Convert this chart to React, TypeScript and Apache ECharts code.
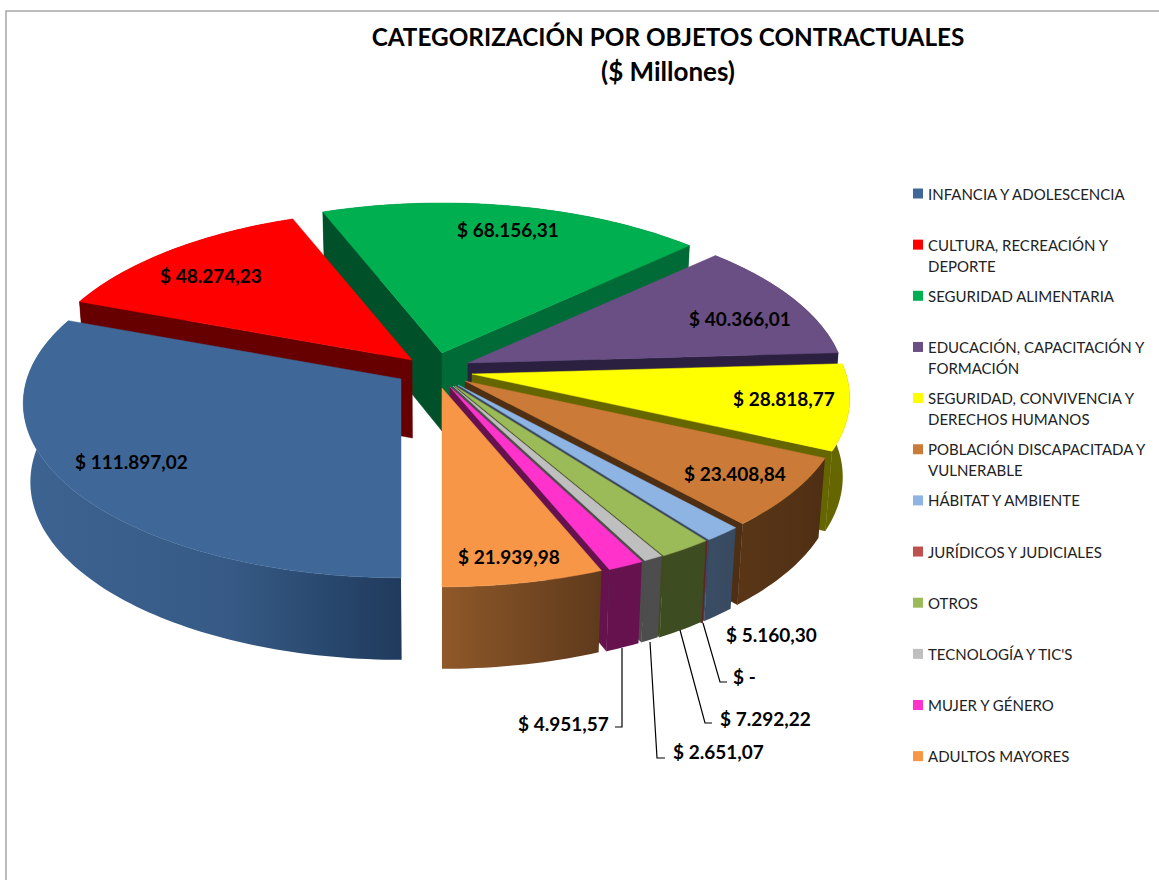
import React, { useEffect, useRef } from "react";
import * as echarts from "echarts";

const categories = [
  "INFANCIA Y ADOLESCENCIA",
  "CULTURA, RECREACIÓN Y\nDEPORTE",
  "SEGURIDAD ALIMENTARIA",
  "EDUCACIÓN, CAPACITACIÓN Y\nFORMACIÓN",
  "SEGURIDAD, CONVIVENCIA Y\nDERECHOS HUMANOS",
  "POBLACIÓN DISCAPACITADA Y\nVULNERABLE",
  "HÁBITAT Y AMBIENTE",
  "JURÍDICOS Y JUDICIALES",
  "OTROS",
  "TECNOLOGÍA Y TIC'S",
  "MUJER Y GÉNERO",
  "ADULTOS MAYORES",
];
const values = [
  111897.02, 48274.23, 68156.31, 40366.01, 28818.77, 23408.84, 5160.3, 0,
  7292.22, 2651.07, 4951.57, 21939.98,
];
const topColors = [
  "#3F6898", "#FF0000", "#00B050", "#6A4F85", "#FFFF00", "#CB7A38",
  "#8DB4E2", "#C0504D", "#9BBB59", "#BFBFBF", "#FF33CC", "#F79646",
];
const wallColors = [
  "#1F3A5C", "#660000", "#00502A", "#2B2040", "#666600", "#4F2F14",
  "#384A60", "#632423", "#3E4C22", "#4D4D4D", "#66124F", "#5E3A1C",
];
const wallLeftColors = [
  "#3D6392", "#660000", "#00502A", "#2B2040", "#666600", "#5A3617",
  "#3A4D64", "#632423", "#3E4C22", "#4D4D4D", "#66124F", "#8F5829",
];
// Layout only: where each slice's apex sits once exploded, label spots, leader lines.
const apexes = [
  [401, 379], [412, 360], [442, 353], [468, 363], [472, 374], [465, 381],
  [458, 385], [456, 387], [455, 386], [453, 386], [450, 387], [442, 388],
];
const labelSpots = [
  [75, 461], [160, 275], [457, 229], [689, 318], [733, 398], [684, 473],
  [726, 634], [733, 676], [720, 718], [673, 751], [518, 723], [458, 556],
];
const leaders: Record<number, number[][]> = {
  7: [[703, 623], [720, 682], [727, 682]],
  8: [[680, 630], [705, 723], [712, 723]],
  9: [[650, 642], [657, 758], [665, 758]],
  10: [[622, 648], [622, 727], [615, 727]],
};

const RX = 374, RY = 171, K = 0.14, CX = 440, SQUEEZE = 0.983;
const FONT = "Lato, 'Open Sans', sans-serif";
const total = values.reduce((a, b) => a + b, 0);
const starts: number[] = [];
values.reduce((acc, v, i) => {
  starts[i] = acc;
  return acc + (v / total) * 2 * Math.PI;
}, 0);

function project(i: number, theta: number, r: number, z: number): number[] {
  const u = -Math.sin(theta) * r;
  const v = Math.cos(theta) * r;
  const s = 1 / (1 - K * v);
  let x = apexes[i][0] + RX * u * s;
  let y = apexes[i][1] + RY * v * s;
  if (z) {
    x = CX + (x - CX) * SQUEEZE;
    y = y + 78 + 4 * v;
  }
  return [x, y];
}
function arc(i: number, a0: number, a1: number, z: number): number[][] {
  const n = Math.max(2, Math.ceil(Math.abs(a1 - a0) / 0.02));
  const pts: number[][] = [];
  for (let k = 0; k <= n; k++) pts.push(project(i, a0 + ((a1 - a0) * k) / n, 1, z));
  return pts;
}
function formatValue(v: number): string {
  if (v === 0) return "$ -";
  const [a, b] = v.toFixed(2).split(".");
  return "$ " + a.replace(/\B(?=(\d{3})+$)/g, ".") + "," + b;
}
const drawOrder = values
  .map((v, i) => ({ i, mid: starts[i] + ((v / total) * Math.PI) }))
  .sort((a, b) => Math.cos(a.mid) - Math.cos(b.mid))
  .map((d) => d.i);

function renderSlice(params: any) {
  const i = drawOrder[params.dataIndex];
  const a0 = starts[i];
  const a1 = a0 + (values[i] / total) * 2 * Math.PI;
  const apexTop = project(i, 0, 0, 0);
  const apexBottom = project(i, 0, 0, 1);
  const wall = wallColors[i];
  const inner = project(i, (a0 + a1) / 2, 0.7, 0);
  // A radial wall shows only when the slice's top lies above its edge on screen.
  const facesViewer = (a: number) => {
    const e = project(i, a, 1, 0);
    const dx = e[0] - apexTop[0];
    if (Math.abs(dx) < 1e-6) return false;
    const edgeY = apexTop[1] + ((e[1] - apexTop[1]) / dx) * (inner[0] - apexTop[0]);
    return inner[1] < edgeY;
  };
  const radial = (a: number, fill: string) => ({
    type: "polygon",
    shape: { points: [apexTop, project(i, a, 1, 0), project(i, a, 1, 1), apexBottom] },
    style: { fill, stroke: fill, lineWidth: values[i] === 0 ? 1 : 0.5 },
  });
  const outerTop = arc(i, a0, a1, 0);
  const outerBottom = arc(i, a0, a1, 1).reverse();
  const children: any[] = [];
  if (values[i] > 0) {
    children.push({
      type: "polygon",
      shape: { points: outerTop.concat(outerBottom) },
      style: {
        fill: new echarts.graphic.LinearGradient(
          0, 0, 1, 0,
          i === 0
            ? [
                { offset: 0, color: wallLeftColors[i] },
                { offset: 0.55, color: "#365A85" },
                { offset: 1, color: wall },
              ]
            : [
                { offset: 0, color: wallLeftColors[i] },
                { offset: 1, color: wall },
              ]
        ),
        stroke: "none",
      },
    });
    if (facesViewer(a0)) children.push(radial(a0, wall));
    if (facesViewer(a1)) children.push(radial(a1, i === 2 ? "#006B36" : wall));
    children.push({
      type: "polygon",
      shape: { points: [apexTop].concat(outerTop) },
      style: { fill: topColors[i], stroke: topColors[i], lineWidth: 0.5 },
    });
  } else {
    children.push(radial(a0, wall));
  }
  return { type: "group", children };
}

function renderLabel(params: any) {
  const i = params.dataIndex;
  const children: any[] = [
    {
      type: "text",
      style: {
        x: labelSpots[i][0],
        y: labelSpots[i][1],
        text: formatValue(values[i]),
        font: `bold 19px ${FONT}`,
        fill: "#000000",
        verticalAlign: "middle",
        align: "left",
      },
    },
  ];
  if (leaders[i]) {
    children.push({
      type: "polyline",
      shape: { points: leaders[i] },
      style: { stroke: "#000000", lineWidth: 1.2, fill: "none" },
    });
  }
  return { type: "group", children };
}

const legendGraphics: any[] = categories.flatMap((name, i) => {
  const y = 193.5 + i * 51.15;
  return [
    { type: "rect", shape: { x: 913, y: y - 5, width: 10, height: 10 }, style: { fill: topColors[i] } },
    {
      type: "text",
      x: 928,
      y: y - 10.5,
      style: { text: name, font: `15px ${FONT}`, fill: "#222222", lineHeight: 21, verticalAlign: "top" },
    },
  ];
});

export default function App() {
  const ref = useRef<HTMLDivElement>(null);
  useEffect(() => {
    const chart = echarts.init(ref.current!, null, { renderer: "svg" });
    chart.setOption({
      animation: false,
      backgroundColor: "#ffffff",
      graphic: [
        {
          type: "polyline",
          shape: { points: [[6, 880], [6, 11], [1159, 11]] },
          style: { stroke: "#A6A6A6", lineWidth: 1.5, fill: "none" },
        },
        {
          type: "text",
          x: 668,
          y: 36,
          style: {
            text: "CATEGORIZACIÓN POR OBJETOS CONTRACTUALES",
            font: `bold 24.3px ${FONT}`,
            fill: "#000000",
            align: "center",
            verticalAlign: "middle",
          },
        },
        {
          type: "text",
          x: 668,
          y: 71,
          style: {
            text: "($ Millones)",
            font: `bold 26px ${FONT}`,
            fill: "#000000",
            align: "center",
            verticalAlign: "middle",
          },
        },
        ...legendGraphics,
      ],
      series: [
        {
          type: "custom",
          coordinateSystem: "none",
          silent: true,
          renderItem: renderSlice,
          data: drawOrder.map((i) => ({ name: categories[i], value: [values[i]] })),
          z: 2,
        },
        {
          type: "custom",
          coordinateSystem: "none",
          silent: true,
          renderItem: renderLabel,
          data: values.map((v, i) => ({ name: categories[i], value: [v] })),
          z: 3,
        },
      ],
    });
    return () => chart.dispose();
  }, []);
  return <div ref={ref} style={{ position: "fixed", left: 0, top: 0, width: 1159, height: 880 }} />;
}
